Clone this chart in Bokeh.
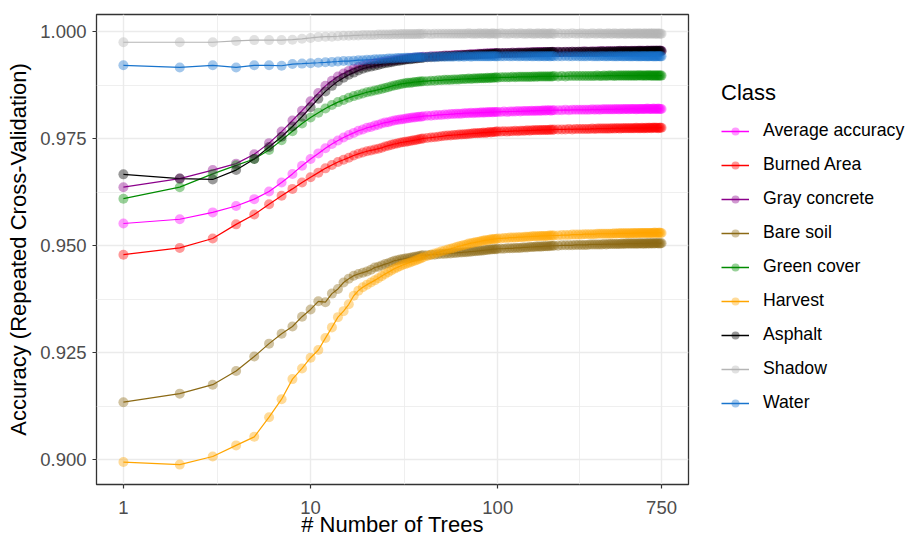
from bokeh.plotting import figure
from bokeh.layouts import row
from bokeh.models import Range1d, FixedTicker, PrintfTickFormatter, Legend, LegendItem
from bokeh.embed import file_html
from bokeh.resources import INLINE

# number of trees at which accuracy was recorded
ntree = (list(range(1, 41)) + list(range(42, 101, 2))
         + list(range(104, 201, 4)) + list(range(210, 751, 10)))

classes = ["Average accuracy", "Burned Area", "Gray concrete", "Bare soil",
           "Green cover", "Harvest", "Asphalt", "Shadow", "Water"]
colors = ["#FF00FF", "#FF0000", "#8B008B", "#8B6914",
          "#008B00", "#FFA500", "#000000", "#B5B5B5", "#1874CD"]

average_accuracy = [
    0.9552, 0.9562, 0.9578, 0.9593, 0.9609, 0.9627, 0.9648, 0.9668, 0.9687, 0.9703,
    0.9716, 0.9728, 0.9738, 0.9746, 0.9753, 0.9759, 0.9764, 0.9769, 0.9772, 0.9776,
    0.9778, 0.9781, 0.9783, 0.9786, 0.9788, 0.9789, 0.9791, 0.9793, 0.9794, 0.9795,
    0.9796, 0.9797, 0.9798, 0.9799, 0.9800, 0.9800, 0.9801, 0.9802, 0.9802, 0.9803,
    0.9804, 0.9804, 0.9805, 0.9806, 0.9806, 0.9807, 0.9807, 0.9808, 0.9808, 0.9809,
    0.9809, 0.9809, 0.9810, 0.9810, 0.9810, 0.9811, 0.9810, 0.9811, 0.9811, 0.9811,
    0.9812, 0.9811, 0.9812, 0.9812, 0.9812, 0.9813, 0.9812, 0.9813, 0.9813, 0.9813,
    0.9813, 0.9814, 0.9813, 0.9814, 0.9814, 0.9814, 0.9815, 0.9814, 0.9815, 0.9815,
    0.9815, 0.9815, 0.9816, 0.9815, 0.9816, 0.9816, 0.9816, 0.9816, 0.9817, 0.9816,
    0.9817, 0.9817, 0.9816, 0.9817, 0.9817, 0.9817, 0.9817, 0.9818, 0.9817, 0.9818,
    0.9818, 0.9818, 0.9818, 0.9818, 0.9818, 0.9818, 0.9819, 0.9818, 0.9819, 0.9818,
    0.9819, 0.9819, 0.9819, 0.9819, 0.9819, 0.9819, 0.9819, 0.9820, 0.9819, 0.9819,
    0.9820, 0.9819, 0.9820, 0.9820, 0.9819, 0.9820, 0.9820, 0.9820, 0.9820, 0.9819,
    0.9820, 0.9820, 0.9820, 0.9820, 0.9820, 0.9820, 0.9820, 0.9821, 0.9820, 0.9820,
    0.9820, 0.9820, 0.9821, 0.9820, 0.9820, 0.9820, 0.9821, 0.9820, 0.9820, 0.9820,
]
burned_area = [
    0.9479, 0.9495, 0.9517, 0.9550, 0.9573, 0.9597, 0.9617, 0.9633, 0.9648, 0.9660,
    0.9671, 0.9681, 0.9689, 0.9696, 0.9701, 0.9706, 0.9711, 0.9715, 0.9718, 0.9721,
    0.9723, 0.9725, 0.9727, 0.9729, 0.9732, 0.9734, 0.9736, 0.9738, 0.9739, 0.9741,
    0.9742, 0.9743, 0.9744, 0.9745, 0.9746, 0.9747, 0.9748, 0.9749, 0.9750, 0.9751,
    0.9752, 0.9753, 0.9754, 0.9755, 0.9756, 0.9757, 0.9758, 0.9758, 0.9759, 0.9759,
    0.9760, 0.9760, 0.9761, 0.9761, 0.9762, 0.9762, 0.9763, 0.9763, 0.9763, 0.9764,
    0.9764, 0.9765, 0.9764, 0.9765, 0.9766, 0.9765, 0.9766, 0.9766, 0.9767, 0.9767,
    0.9767, 0.9768, 0.9767, 0.9768, 0.9768, 0.9769, 0.9768, 0.9769, 0.9769, 0.9769,
    0.9770, 0.9769, 0.9770, 0.9770, 0.9770, 0.9771, 0.9770, 0.9771, 0.9771, 0.9771,
    0.9771, 0.9771, 0.9772, 0.9771, 0.9772, 0.9772, 0.9772, 0.9772, 0.9773, 0.9772,
    0.9773, 0.9773, 0.9773, 0.9773, 0.9773, 0.9773, 0.9774, 0.9773, 0.9774, 0.9774,
    0.9774, 0.9774, 0.9774, 0.9774, 0.9774, 0.9775, 0.9774, 0.9775, 0.9775, 0.9774,
    0.9775, 0.9775, 0.9775, 0.9775, 0.9775, 0.9775, 0.9775, 0.9775, 0.9775, 0.9776,
    0.9775, 0.9775, 0.9775, 0.9776, 0.9775, 0.9775, 0.9776, 0.9775, 0.9776, 0.9776,
    0.9775, 0.9776, 0.9776, 0.9776, 0.9776, 0.9776, 0.9775, 0.9776, 0.9776, 0.9776,
]
gray_concrete = [
    0.9637, 0.9657, 0.9677, 0.9692, 0.9714, 0.9740, 0.9767, 0.9793, 0.9816, 0.9838,
    0.9857, 0.9874, 0.9886, 0.9896, 0.9903, 0.9909, 0.9914, 0.9918, 0.9921, 0.9924,
    0.9925, 0.9927, 0.9928, 0.9930, 0.9931, 0.9932, 0.9933, 0.9934, 0.9935, 0.9936,
    0.9937, 0.9937, 0.9938, 0.9939, 0.9939, 0.9940, 0.9940, 0.9941, 0.9941, 0.9942,
    0.9942, 0.9943, 0.9943, 0.9944, 0.9944, 0.9945, 0.9945, 0.9945, 0.9946, 0.9946,
    0.9946, 0.9947, 0.9947, 0.9947, 0.9948, 0.9948, 0.9948, 0.9948, 0.9949, 0.9949,
    0.9949, 0.9949, 0.9950, 0.9949, 0.9950, 0.9950, 0.9950, 0.9950, 0.9951, 0.9950,
    0.9951, 0.9951, 0.9951, 0.9951, 0.9952, 0.9951, 0.9952, 0.9952, 0.9952, 0.9952,
    0.9952, 0.9952, 0.9953, 0.9952, 0.9953, 0.9953, 0.9953, 0.9953, 0.9953, 0.9953,
    0.9953, 0.9953, 0.9953, 0.9954, 0.9953, 0.9954, 0.9953, 0.9954, 0.9954, 0.9954,
    0.9954, 0.9954, 0.9954, 0.9955, 0.9954, 0.9954, 0.9955, 0.9954, 0.9955, 0.9955,
    0.9955, 0.9955, 0.9955, 0.9955, 0.9955, 0.9955, 0.9955, 0.9955, 0.9955, 0.9956,
    0.9955, 0.9955, 0.9956, 0.9955, 0.9955, 0.9955, 0.9956, 0.9955, 0.9956, 0.9955,
    0.9956, 0.9955, 0.9956, 0.9956, 0.9956, 0.9955, 0.9956, 0.9956, 0.9956, 0.9956,
    0.9956, 0.9956, 0.9956, 0.9956, 0.9956, 0.9956, 0.9956, 0.9956, 0.9956, 0.9956,
]
bare_soil = [
    0.9134, 0.9154, 0.9175, 0.9207, 0.9241, 0.9271, 0.9294, 0.9311, 0.9334, 0.9351,
    0.9370, 0.9368, 0.9388, 0.9399, 0.9414, 0.9423, 0.9430, 0.9434, 0.9437, 0.9440,
    0.9444, 0.9449, 0.9451, 0.9454, 0.9457, 0.9459, 0.9462, 0.9465, 0.9466, 0.9468,
    0.9469, 0.9470, 0.9471, 0.9472, 0.9473, 0.9474, 0.9475, 0.9476, 0.9477, 0.9478,
    0.9478, 0.9479, 0.9479, 0.9480, 0.9481, 0.9481, 0.9482, 0.9482, 0.9483, 0.9483,
    0.9484, 0.9484, 0.9485, 0.9485, 0.9486, 0.9486, 0.9487, 0.9487, 0.9488, 0.9488,
    0.9489, 0.9489, 0.9490, 0.9490, 0.9491, 0.9491, 0.9492, 0.9492, 0.9492, 0.9493,
    0.9493, 0.9493, 0.9494, 0.9494, 0.9494, 0.9495, 0.9495, 0.9495, 0.9496, 0.9496,
    0.9496, 0.9497, 0.9497, 0.9497, 0.9498, 0.9498, 0.9498, 0.9498, 0.9499, 0.9499,
    0.9499, 0.9499, 0.9500, 0.9500, 0.9500, 0.9500, 0.9501, 0.9501, 0.9501, 0.9501,
    0.9502, 0.9502, 0.9502, 0.9502, 0.9502, 0.9503, 0.9503, 0.9503, 0.9503, 0.9503,
    0.9503, 0.9504, 0.9503, 0.9504, 0.9504, 0.9504, 0.9504, 0.9504, 0.9504, 0.9504,
    0.9505, 0.9504, 0.9505, 0.9505, 0.9505, 0.9505, 0.9505, 0.9505, 0.9505, 0.9505,
    0.9505, 0.9505, 0.9506, 0.9505, 0.9505, 0.9505, 0.9506, 0.9505, 0.9506, 0.9505,
    0.9506, 0.9506, 0.9505, 0.9506, 0.9506, 0.9506, 0.9506, 0.9505, 0.9506, 0.9506,
]
green_cover = [
    0.9610, 0.9637, 0.9668, 0.9688, 0.9703, 0.9724, 0.9747, 0.9768, 0.9786, 0.9800,
    0.9811, 0.9821, 0.9829, 0.9836, 0.9841, 0.9846, 0.9850, 0.9853, 0.9856, 0.9859,
    0.9861, 0.9863, 0.9865, 0.9867, 0.9869, 0.9871, 0.9873, 0.9875, 0.9876, 0.9878,
    0.9879, 0.9880, 0.9881, 0.9881, 0.9882, 0.9883, 0.9883, 0.9884, 0.9884, 0.9885,
    0.9885, 0.9886, 0.9886, 0.9887, 0.9887, 0.9888, 0.9888, 0.9888, 0.9889, 0.9889,
    0.9889, 0.9890, 0.9890, 0.9890, 0.9891, 0.9890, 0.9891, 0.9891, 0.9891, 0.9892,
    0.9892, 0.9892, 0.9892, 0.9893, 0.9892, 0.9893, 0.9893, 0.9893, 0.9894, 0.9893,
    0.9894, 0.9894, 0.9894, 0.9894, 0.9895, 0.9894, 0.9895, 0.9895, 0.9895, 0.9895,
    0.9895, 0.9895, 0.9895, 0.9896, 0.9895, 0.9896, 0.9896, 0.9896, 0.9896, 0.9896,
    0.9896, 0.9896, 0.9896, 0.9896, 0.9897, 0.9896, 0.9897, 0.9896, 0.9897, 0.9897,
    0.9897, 0.9897, 0.9897, 0.9897, 0.9897, 0.9897, 0.9897, 0.9897, 0.9898, 0.9897,
    0.9897, 0.9898, 0.9897, 0.9898, 0.9898, 0.9898, 0.9897, 0.9898, 0.9898, 0.9898,
    0.9898, 0.9898, 0.9898, 0.9898, 0.9898, 0.9898, 0.9898, 0.9898, 0.9898, 0.9898,
    0.9898, 0.9899, 0.9898, 0.9898, 0.9898, 0.9898, 0.9898, 0.9898, 0.9899, 0.9898,
    0.9898, 0.9898, 0.9898, 0.9898, 0.9898, 0.9898, 0.9898, 0.9898, 0.9898, 0.9898,
]
harvest = [
    0.8994, 0.8988, 0.9007, 0.9033, 0.9053, 0.9099, 0.9141, 0.9188, 0.9213, 0.9238,
    0.9256, 0.9284, 0.9309, 0.9333, 0.9347, 0.9363, 0.9383, 0.9395, 0.9403, 0.9409,
    0.9414, 0.9419, 0.9424, 0.9429, 0.9434, 0.9438, 0.9442, 0.9446, 0.9449, 0.9452,
    0.9455, 0.9457, 0.9459, 0.9461, 0.9463, 0.9465, 0.9467, 0.9469, 0.9471, 0.9473,
    0.9476, 0.9479, 0.9482, 0.9484, 0.9487, 0.9489, 0.9491, 0.9493, 0.9495, 0.9497,
    0.9499, 0.9500, 0.9502, 0.9503, 0.9505, 0.9506, 0.9507, 0.9508, 0.9509, 0.9510,
    0.9511, 0.9512, 0.9513, 0.9513, 0.9514, 0.9515, 0.9515, 0.9516, 0.9516, 0.9517,
    0.9517, 0.9518, 0.9518, 0.9519, 0.9519, 0.9519, 0.9520, 0.9520, 0.9520, 0.9521,
    0.9521, 0.9521, 0.9522, 0.9522, 0.9522, 0.9522, 0.9523, 0.9523, 0.9523, 0.9523,
    0.9523, 0.9524, 0.9524, 0.9524, 0.9524, 0.9524, 0.9525, 0.9525, 0.9525, 0.9526,
    0.9526, 0.9526, 0.9526, 0.9527, 0.9527, 0.9527, 0.9527, 0.9527, 0.9528, 0.9528,
    0.9528, 0.9528, 0.9528, 0.9528, 0.9528, 0.9528, 0.9529, 0.9528, 0.9529, 0.9529,
    0.9529, 0.9529, 0.9529, 0.9529, 0.9529, 0.9529, 0.9529, 0.9530, 0.9529, 0.9530,
    0.9529, 0.9530, 0.9530, 0.9530, 0.9530, 0.9530, 0.9530, 0.9530, 0.9530, 0.9530,
    0.9530, 0.9530, 0.9530, 0.9531, 0.9530, 0.9530, 0.9530, 0.9531, 0.9530, 0.9530,
]
asphalt = [
    0.9667, 0.9657, 0.9655, 0.9677, 0.9703, 0.9731, 0.9755, 0.9779, 0.9802, 0.9824,
    0.9844, 0.9861, 0.9874, 0.9885, 0.9893, 0.9900, 0.9905, 0.9910, 0.9914, 0.9917,
    0.9919, 0.9921, 0.9923, 0.9925, 0.9927, 0.9928, 0.9929, 0.9931, 0.9932, 0.9933,
    0.9934, 0.9935, 0.9936, 0.9936, 0.9937, 0.9938, 0.9938, 0.9939, 0.9939, 0.9940,
    0.9941, 0.9941, 0.9942, 0.9942, 0.9943, 0.9943, 0.9944, 0.9944, 0.9944, 0.9945,
    0.9945, 0.9945, 0.9946, 0.9946, 0.9946, 0.9947, 0.9947, 0.9947, 0.9947, 0.9948,
    0.9948, 0.9948, 0.9948, 0.9949, 0.9948, 0.9949, 0.9949, 0.9949, 0.9950, 0.9950,
    0.9950, 0.9950, 0.9950, 0.9951, 0.9950, 0.9951, 0.9951, 0.9951, 0.9951, 0.9951,
    0.9952, 0.9951, 0.9952, 0.9952, 0.9952, 0.9952, 0.9952, 0.9952, 0.9952, 0.9953,
    0.9952, 0.9953, 0.9953, 0.9953, 0.9953, 0.9953, 0.9953, 0.9953, 0.9953, 0.9954,
    0.9953, 0.9954, 0.9954, 0.9954, 0.9954, 0.9954, 0.9954, 0.9954, 0.9954, 0.9954,
    0.9955, 0.9954, 0.9954, 0.9955, 0.9954, 0.9955, 0.9954, 0.9955, 0.9955, 0.9955,
    0.9955, 0.9955, 0.9955, 0.9955, 0.9955, 0.9955, 0.9955, 0.9955, 0.9955, 0.9955,
    0.9955, 0.9956, 0.9955, 0.9955, 0.9955, 0.9955, 0.9955, 0.9956, 0.9955, 0.9955,
    0.9956, 0.9955, 0.9956, 0.9955, 0.9956, 0.9956, 0.9955, 0.9956, 0.9956, 0.9955,
]
shadow = [
    0.9976, 0.9976, 0.9976, 0.9979, 0.9981, 0.9981, 0.9981, 0.9982, 0.9984, 0.9986,
    0.9988, 0.9989, 0.9989, 0.9990, 0.9991, 0.9991, 0.9992, 0.9992, 0.9993, 0.9993,
    0.9993, 0.9993, 0.9994, 0.9994, 0.9994, 0.9994, 0.9994, 0.9995, 0.9994, 0.9995,
    0.9995, 0.9995, 0.9995, 0.9995, 0.9995, 0.9995, 0.9995, 0.9996, 0.9995, 0.9996,
    0.9996, 0.9995, 0.9996, 0.9996, 0.9996, 0.9996, 0.9996, 0.9996, 0.9996, 0.9996,
    0.9996, 0.9996, 0.9996, 0.9996, 0.9997, 0.9996, 0.9996, 0.9996, 0.9996, 0.9997,
    0.9996, 0.9996, 0.9997, 0.9996, 0.9996, 0.9996, 0.9997, 0.9996, 0.9996, 0.9996,
    0.9997, 0.9996, 0.9996, 0.9996, 0.9997, 0.9996, 0.9996, 0.9997, 0.9996, 0.9996,
    0.9996, 0.9997, 0.9996, 0.9996, 0.9996, 0.9997, 0.9996, 0.9996, 0.9997, 0.9996,
    0.9996, 0.9996, 0.9997, 0.9996, 0.9996, 0.9997, 0.9996, 0.9996, 0.9996, 0.9997,
    0.9996, 0.9996, 0.9997, 0.9996, 0.9996, 0.9996, 0.9997, 0.9996, 0.9996, 0.9997,
    0.9996, 0.9996, 0.9996, 0.9997, 0.9996, 0.9996, 0.9997, 0.9996, 0.9996, 0.9996,
    0.9997, 0.9996, 0.9996, 0.9996, 0.9997, 0.9996, 0.9996, 0.9996, 0.9997, 0.9996,
    0.9996, 0.9997, 0.9996, 0.9996, 0.9996, 0.9997, 0.9996, 0.9996, 0.9996, 0.9997,
    0.9996, 0.9996, 0.9997, 0.9996, 0.9996, 0.9996, 0.9997, 0.9996, 0.9996, 0.9996,
]
water = [
    0.9922, 0.9917, 0.9922, 0.9917, 0.9922, 0.9922, 0.9921, 0.9925, 0.9926, 0.9927,
    0.9928, 0.9929, 0.9930, 0.9931, 0.9932, 0.9932, 0.9933, 0.9934, 0.9934, 0.9935,
    0.9935, 0.9936, 0.9936, 0.9937, 0.9937, 0.9938, 0.9938, 0.9938, 0.9939, 0.9939,
    0.9939, 0.9940, 0.9940, 0.9940, 0.9940, 0.9941, 0.9941, 0.9941, 0.9941, 0.9941,
    0.9941, 0.9942, 0.9941, 0.9942, 0.9942, 0.9942, 0.9942, 0.9942, 0.9942, 0.9943,
    0.9942, 0.9943, 0.9942, 0.9943, 0.9943, 0.9942, 0.9943, 0.9943, 0.9943, 0.9943,
    0.9943, 0.9943, 0.9943, 0.9943, 0.9943, 0.9943, 0.9944, 0.9943, 0.9943, 0.9943,
    0.9943, 0.9943, 0.9944, 0.9943, 0.9943, 0.9944, 0.9943, 0.9943, 0.9944, 0.9943,
    0.9943, 0.9944, 0.9943, 0.9943, 0.9944, 0.9943, 0.9943, 0.9944, 0.9943, 0.9943,
    0.9944, 0.9943, 0.9943, 0.9944, 0.9943, 0.9943, 0.9943, 0.9944, 0.9943, 0.9943,
    0.9944, 0.9943, 0.9943, 0.9943, 0.9943, 0.9944, 0.9943, 0.9943, 0.9943, 0.9943,
    0.9944, 0.9943, 0.9943, 0.9943, 0.9944, 0.9943, 0.9943, 0.9943, 0.9943, 0.9944,
    0.9943, 0.9943, 0.9943, 0.9944, 0.9943, 0.9943, 0.9943, 0.9943, 0.9944, 0.9943,
    0.9943, 0.9943, 0.9943, 0.9943, 0.9944, 0.9943, 0.9943, 0.9943, 0.9943, 0.9943,
    0.9944, 0.9943, 0.9943, 0.9943, 0.9943, 0.9943, 0.9944, 0.9943, 0.9943, 0.9943,
]

series = [average_accuracy, burned_area, gray_concrete, bare_soil,
          green_cover, harvest, asphalt, shadow, water]

y_ticks = [0.900, 0.925, 0.950, 0.975, 1.000]
y_minor = [0.9125, 0.9375, 0.9625, 0.9875]
x_ticks = [1, 10, 100, 750]
x_minor = [3.1623, 31.623, 273.86]

FONT = "Liberation Sans"
MARKER_SIZE = 10
MARKER_ALPHA = 0.4
LINE_W = 1.2

p = figure(width=690, height=539, x_axis_type="log",
           x_range=Range1d(0.718, 1045), y_range=Range1d(0.89415, 1.00409),
           output_backend="svg", toolbar_location=None,
           min_border_left=96, min_border_right=2,
           min_border_top=14, min_border_bottom=55)
p.background_fill_color = "white"
p.border_fill_color = "white"
p.outline_line_color = "#333333"
p.outline_line_width = 1.3

xt = FixedTicker(ticks=x_ticks, minor_ticks=x_minor)
yt = FixedTicker(ticks=y_ticks, minor_ticks=y_minor)
p.xaxis.ticker = xt
p.yaxis.ticker = yt
p.xgrid.ticker = xt
p.ygrid.ticker = yt
p.xaxis.formatter = PrintfTickFormatter(format="%d")
p.yaxis.formatter = PrintfTickFormatter(format="%.3f")

for g in (p.xgrid, p.ygrid):
    g.grid_line_color = "#EBEBEB"
    g.grid_line_width = 1.4
    g.minor_grid_line_color = "#EBEBEB"
    g.minor_grid_line_width = 0.8

for ax in (p.xaxis, p.yaxis):
    ax.axis_line_color = None
    ax.major_tick_line_color = "#333333"
    ax.major_tick_line_width = 1.2
    ax.major_tick_out = 4
    ax.major_tick_in = 0
    ax.minor_tick_line_color = None
    ax.major_label_text_font = FONT
    ax.major_label_text_font_size = "18.5px"
    ax.major_label_text_color = "#4D4D4D"
    ax.axis_label_text_font = FONT
    ax.axis_label_text_font_size = "22px"
    ax.axis_label_text_font_style = "normal"
    ax.axis_label_text_color = "#000000"

p.xaxis.axis_label = "# Number of Trees"
p.yaxis.axis_label = "Accuracy (Repeated Cross-Validation)"
p.xaxis.major_label_standoff = 12
p.xaxis.axis_label_standoff = -5
p.yaxis.major_label_standoff = 6
p.yaxis.axis_label_standoff = 6

for vals, col in zip(series, colors):
    p.line(ntree, vals, line_color=col, line_width=LINE_W)
for vals, col in zip(series, colors):
    p.scatter(ntree, vals, size=MARKER_SIZE, fill_color=col,
              fill_alpha=MARKER_ALPHA, line_color=None)

# legend panel to the right of the plot (key glyphs share the plot's styles;
# their single NaN point draws nothing, it only gives the legend a style row)
lg = figure(width=219, height=539, output_backend="svg", toolbar_location=None,
            x_range=Range1d(0, 1), y_range=Range1d(0, 1),
            x_axis_location=None, y_axis_location=None,
            min_border=0, outline_line_color=None)
lg.grid.visible = False
lg.background_fill_color = "white"
lg.border_fill_color = "white"

NAN = float("nan")
items = []
for c, col in zip(classes, colors):
    lr = lg.line([NAN], [NAN], line_color=col, line_width=1.5)
    sr = lg.scatter([NAN], [NAN], size=MARKER_SIZE, fill_color=col,
                    fill_alpha=MARKER_ALPHA, line_color=None)
    items.append(LegendItem(label=c, renderers=[lr, sr]))

legend = Legend(items=items, location=(31, 71), title="Class",
                title_text_font=FONT, title_text_font_size="22px",
                title_text_font_style="normal", title_text_color="#000000",
                title_standoff=14,
                label_text_font=FONT, label_text_font_size="17.7px",
                label_text_color="#000000",
                glyph_width=28, glyph_height=20, label_height=20,
                label_standoff=14, spacing=13, padding=0, margin=0,
                border_line_color=None, background_fill_alpha=0)
lg.add_layout(legend, "center")

layout = row(p, lg)
open("out.html", "w").write(file_html(layout, INLINE))
